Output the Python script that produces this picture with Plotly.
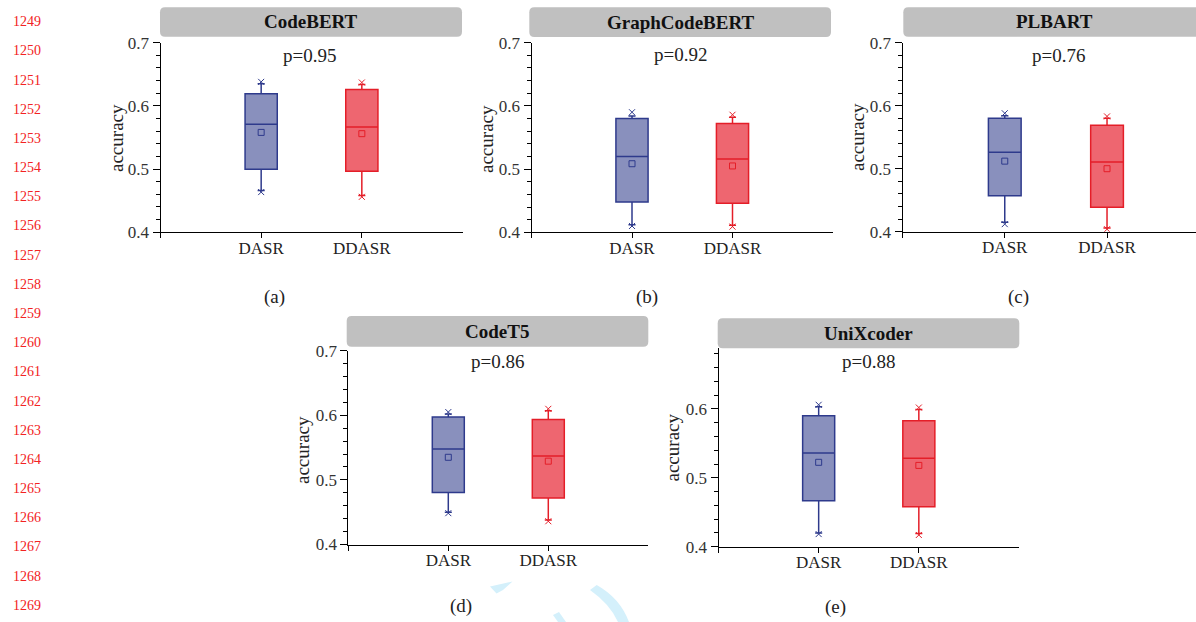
import plotly.graph_objects as go

# ---------------- data ----------------
models = ["CodeBERT", "GraphCodeBERT", "PLBART", "CodeT5", "UniXcoder"]
p_values = ["p=0.95", "p=0.92", "p=0.76", "p=0.86", "p=0.88"]
panel_labels = ["(a)", "(b)", "(c)", "(d)", "(e)"]
methods = ["DASR", "DDASR"]
line_numbers = [str(n) for n in range(1249, 1270)]

dasr_max = [0.638, 0.590, 0.588, 0.605, 0.606]
dasr_upper = [0.635, 0.584, 0.584, 0.602, 0.603]
dasr_q3 = [0.619, 0.580, 0.580, 0.5975, 0.590]
dasr_median = [0.571, 0.520, 0.526, 0.548, 0.536]
dasr_mean = [0.558, 0.5085, 0.512, 0.535, 0.5225]
dasr_q1 = [0.4995, 0.448, 0.457, 0.4806, 0.4668]
dasr_lower = [0.466, 0.412, 0.415, 0.450, 0.420]
dasr_min = [0.4635, 0.410, 0.412, 0.4485, 0.4183]

ddasr_max = [0.637, 0.586, 0.583, 0.610, 0.602]
ddasr_upper = [0.634, 0.582, 0.580, 0.607, 0.599]
ddasr_q3 = [0.626, 0.572, 0.569, 0.5935, 0.583]
ddasr_median = [0.5667, 0.516, 0.5107, 0.537, 0.5285]
ddasr_mean = [0.556, 0.505, 0.500, 0.529, 0.518]
ddasr_q1 = [0.4963, 0.446, 0.439, 0.472, 0.458]
ddasr_lower = [0.458, 0.411, 0.406, 0.438, 0.419]
ddasr_min = [0.456, 0.409, 0.404, 0.436, 0.417]

y_ranges = [[0.4, 0.7], [0.4, 0.7], [0.4, 0.7], [0.4, 0.7], [0.4, 0.688]]
x_ranges = [[-1, 2], [-1, 2], [-1, 1.87], [-1, 2], [-1, 2]]

# ---------------- layout geometry (pixels) ----------------
W, H = 1196, 622
FONT = "Liberation Serif"

def fx(px):
    return px / W

def fy(py):
    return 1 - py / H

# plot areas: (x0, x1, ytop, ybottom)
areas = [
    (160.5, 462.5, 42.7, 232.2),
    (531.5, 833.0, 42.7, 232.3),
    (902.5, 1196.0, 42.7, 231.7),
    (348.3, 648.3, 350.7, 544.5),
    (718.5, 1019.0, 348.3, 546.7),
]
# title bars: (x0, x1, y0, y1, text_center_x)
bars = [
    (160.0, 462.0, 7.3, 36.7, 311.0),
    (529.3, 831.0, 7.3, 36.9, 680.0),
    (903.3, 1215.0, 7.3, 36.7, 1054.0),
    (346.7, 648.3, 316.0, 346.7, 497.5),
    (717.7, 1019.3, 318.3, 348.3, 868.5),
]
p_pos = [(309, 55), (680, 54.5), (1058, 55), (497, 361.7), (868, 361.7)]
acc_pos = [(116, 138), (486, 139), (857, 137), (302, 450), (672, 447.5)]
lab_pos = [(274, 297), (647, 297), (1018, 297.5), (461, 606), (835, 607)]

dasr_fill, dasr_line = "#8990BD", "#2E3A8C"
ddasr_fill, ddasr_line = "#EE6670", "#E41E28"

fig = go.Figure()
layout = dict(
    template="none",
    width=W, height=H, autosize=False,
    margin=dict(l=0, r=0, t=0, b=0, pad=0),
    paper_bgcolor="white", plot_bgcolor="white",
    font=dict(family=FONT, color="#222222"),
    showlegend=False,
)

shapes = []
annotations = []

for i in range(5):
    k = "" if i == 0 else str(i + 1)
    xa, ya = "x" + k, "y" + k
    x0, x1, yt, yb = areas[i]
    layout["xaxis" + k] = dict(
        domain=[fx(x0), fx(x1)], range=x_ranges[i], anchor=ya,
        automargin=False,
        tickvals=[-1, 0, 1], ticktext=[""] + methods,
        ticks="outside", ticklen=5, tickwidth=1, tickcolor="#000",
        ticklabelstandoff=-5,
        showline=True, linecolor="#000", linewidth=1,
        showgrid=False, zeroline=False, fixedrange=True,
        tickfont=dict(family=FONT, size=17, color="#222"),
    )
    layout["yaxis" + k] = dict(
        domain=[fy(yb), fy(yt)], range=y_ranges[i], anchor=xa,
        automargin=False,
        tick0=0.4, dtick=0.1, tickformat=".1f",
        ticks="outside", ticklen=7, tickwidth=1, tickcolor="#000",
        minor=dict(dtick=0.02, tick0=0.4, ticks="outside", ticklen=4,
                   tickwidth=1, tickcolor="#000", showgrid=False),
        showline=True, linecolor="#000", linewidth=1,
        showgrid=False, zeroline=False, fixedrange=True,
        tickfont=dict(family=FONT, size=17, color="#333"),
    )

    stats = [
        (dasr_q1, dasr_median, dasr_q3, dasr_lower, dasr_upper, dasr_min, dasr_max, dasr_mean, dasr_fill, dasr_line),
        (ddasr_q1, ddasr_median, ddasr_q3, ddasr_lower, ddasr_upper, ddasr_min, ddasr_max, ddasr_mean, ddasr_fill, ddasr_line),
    ]
    for j, (q1, med, q3, lo, hi, mn, mx, mean, fc, lc) in enumerate(stats):
        fig.add_trace(go.Box(
            x=[j], q1=[q1[i]], median=[med[i]], q3=[q3[i]],
            lowerfence=[lo[i]], upperfence=[hi[i]],
            width=0.32, whiskerwidth=0.22, boxpoints=False,
            fillcolor=fc, line=dict(color=lc, width=1.5),
            xaxis=xa, yaxis=ya, hoverinfo="skip",
        ))
        fig.add_trace(go.Scatter(
            x=[j, j], y=[mn[i], mx[i]], mode="markers",
            marker=dict(symbol="x-thin", size=6, line=dict(color=lc, width=1)),
            xaxis=xa, yaxis=ya, hoverinfo="skip",
        ))
        fig.add_trace(go.Scatter(
            x=[j], y=[mean[i]], mode="markers",
            marker=dict(symbol="square-open", size=6, color=lc, line=dict(color=lc, width=1)),
            xaxis=xa, yaxis=ya, hoverinfo="skip",
        ))

    # rounded title bar
    bx0, bx1, by0, by1, tcx = bars[i]
    r = 5.0
    path = (
        f"M {fx(bx0 + r)},{fy(by0)} L {fx(bx1 - r)},{fy(by0)} "
        f"Q {fx(bx1)},{fy(by0)} {fx(bx1)},{fy(by0 + r)} "
        f"L {fx(bx1)},{fy(by1 - r)} Q {fx(bx1)},{fy(by1)} {fx(bx1 - r)},{fy(by1)} "
        f"L {fx(bx0 + r)},{fy(by1)} Q {fx(bx0)},{fy(by1)} {fx(bx0)},{fy(by1 - r)} "
        f"L {fx(bx0)},{fy(by0 + r)} Q {fx(bx0)},{fy(by0)} {fx(bx0 + r)},{fy(by0)} Z"
    )
    shapes.append(dict(type="path", xref="paper", yref="paper", path=path,
                       fillcolor="#C0C0C0", line=dict(width=0), layer="below"))
    annotations.append(dict(
        x=fx(tcx), y=fy((by0 + by1) / 2), xref="paper", yref="paper",
        text="<b>" + models[i] + "</b>", showarrow=False,
        xanchor="center", yanchor="middle",
        font=dict(family=FONT, size=19, color="#111"),
    ))
    annotations.append(dict(
        x=fx(p_pos[i][0]), y=fy(p_pos[i][1]), xref="paper", yref="paper",
        text=p_values[i], showarrow=False, xanchor="center", yanchor="middle",
        font=dict(family=FONT, size=19, color="#222"),
    ))
    annotations.append(dict(
        x=fx(acc_pos[i][0]), y=fy(acc_pos[i][1]), xref="paper", yref="paper",
        text="accuracy", textangle=-90, showarrow=False,
        xanchor="center", yanchor="middle",
        font=dict(family=FONT, size=19, color="#222"),
    ))
    annotations.append(dict(
        x=fx(lab_pos[i][0]), y=fy(lab_pos[i][1]), xref="paper", yref="paper",
        text=panel_labels[i], showarrow=False, xanchor="center", yanchor="middle",
        font=dict(family=FONT, size=19, color="#222"),
    ))

# line numbers on the left margin
for n, t in enumerate(line_numbers):
    annotations.append(dict(
        x=fx(11), y=fy(21.7 + 29.18 * n), xref="paper", yref="paper",
        text=t, showarrow=False, xanchor="left", yanchor="middle",
        font=dict(family=FONT, size=14, color="#F22222"),
    ))

# faint watermark fragments
wm = "#D4F0FB"
def P(pts):
    return "M " + " L ".join(f"{fx(a)},{fy(b)}" for a, b in pts) + " Z"
shapes.append(dict(type="path", xref="paper", yref="paper", layer="below",
                   path=P([(490, 586.5), (512.5, 581.5), (503, 590), (496.5, 593.5)]),
                   fillcolor=wm, line=dict(width=0)))
shapes.append(dict(type="path", xref="paper", yref="paper", layer="below",
                   path=(f"M {fx(596.7)},{fy(585)} Q {fx(620)},{fy(598)} {fx(629)},{fy(622)} "
                         f"L {fx(618)},{fy(622)} Q {fx(610)},{fy(604)} {fx(590)},{fy(590)} Z"),
                   fillcolor=wm, line=dict(width=0)))
shapes.append(dict(type="path", xref="paper", yref="paper", layer="below",
                   path=P([(553, 615), (559, 612), (566, 622), (558, 622)]),
                   fillcolor=wm, line=dict(width=0)))

layout["shapes"] = shapes
layout["annotations"] = annotations
fig.update_layout(**layout)

pin_script = (
    "var d=document.getElementById('{plot_id}');"
    "d.style.position='fixed';d.style.left='0px';d.style.top='0px';"
    "document.documentElement.style.margin='0px';"
    "document.documentElement.style.overflow='hidden';"
    "document.body.style.margin='0px';document.body.style.padding='0px';"
    "document.body.style.overflow='hidden';"
)
fig.write_html(
    "out.html",
    config={"displayModeBar": False},
    post_script=pin_script,
)
